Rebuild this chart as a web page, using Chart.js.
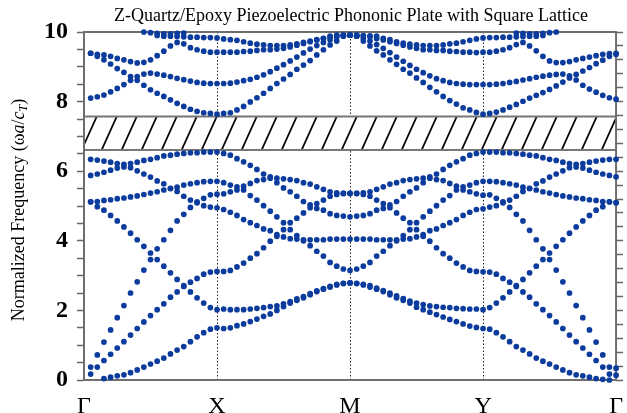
<!DOCTYPE html>
<html>
<head>
<meta charset="utf-8">
<script src="https://cdn.jsdelivr.net/npm/chart.js@4"></script>
<style>
  html, body { margin: 0; padding: 0; background: #fff; }
  #wrap { width: 627px; height: 413px; }
</style>
</head>
<body>
<div id="wrap"><canvas id="bands" width="627" height="413"></canvas></div>
<script>
// symmetry points along the path
const pathLabels = ["Γ", "X", "M", "Y", "Γ"];
// band gap (hatched)
const gapRange = [6.61, 7.57];

// 20 samples per segment: Γ-X | X-M | M-Y | Y-Γ
const bandA = [
  null, null, 0.04, 0.08, 0.12, 0.15, 0.21, 0.29, 0.37, 0.46, 0.54, 0.63, 0.75, 0.86, 0.96, 1.10, 1.24, 1.36, 1.46, 1.50,
  1.48, 1.50, 1.56, 1.61, 1.68, 1.75, 1.83, 1.90, 2.00, 2.11, 2.21, 2.29, 2.36, 2.45, 2.54, 2.61, 2.67, 2.73, 2.77, 2.79,
  2.77, 2.73, 2.67, 2.61, 2.54, 2.45, 2.36, 2.29, 2.21, 2.09, 2.02, 1.95, 1.88, 1.81, 1.74, 1.68, 1.61, 1.55, 1.51, 1.48,
  1.46, 1.36, 1.24, 1.10, 0.96, 0.86, 0.75, 0.63, 0.54, 0.46, 0.37, 0.29, 0.21, 0.15, 0.12, 0.08, 0.04, 0.02, 0.00, null
];
const bandB = [
  0.17, 0.37, 0.56, 0.74, 0.92, 1.10, 1.29, 1.48, 1.67, 1.85, 2.02, 2.19, 2.38, 2.53, 2.69, 2.81, 2.92, 3.04, 3.10, 3.12,
  3.12, 3.15, 3.25, 3.36, 3.50, 3.63, 3.80, 3.99, 4.13, 4.32, 4.52, 4.65, 4.80, 4.95, 5.07, 5.17, 5.28, 5.33, 5.36, 5.36,
  5.36, 5.33, 5.28, 5.17, 5.07, 4.95, 4.80, 4.65, 4.52, 4.32, 4.13, 3.99, 3.80, 3.63, 3.50, 3.36, 3.25, 3.15, 3.12, 3.11,
  3.10, 3.04, 2.92, 2.81, 2.69, 2.53, 2.38, 2.19, 2.02, 1.85, 1.67, 1.48, 1.29, 1.10, 0.92, 0.74, 0.56, 0.37, 0.17, 0.14
];
const bandC = [
  0.37, 0.72, 1.09, 1.44, 1.79, 2.14, 2.50, 2.82, 3.16, 3.46, 3.77, 4.03, 4.30, 4.57, 4.76, 4.96, 5.12, 5.22, 5.32, 5.34,
  5.35, 5.41, 5.46, 5.46, 5.30, 5.17, 5.01, 4.85, 4.69, 4.52, 4.32, 4.15, 4.00, 3.86, 3.70, 3.56, 3.38, 3.27, 3.19, 3.15,
  3.19, 3.27, 3.38, 3.56, 3.70, 3.86, 4.00, 4.15, 4.32, 4.52, 4.69, 4.85, 5.01, 5.17, 5.30, 5.46, 5.46, 5.41, 5.35, 5.31,
  5.32, 5.22, 5.12, 4.96, 4.76, 4.57, 4.30, 4.03, 3.77, 3.46, 3.16, 2.82, 2.50, 2.14, 1.79, 1.44, 1.09, 0.72, 0.37, 0.34
];
const bandD = [
  5.12, 4.98, 4.88, 4.73, 4.57, 4.40, 4.22, 4.03, 3.84, 3.65, 3.46, 3.27, 3.08, 2.89, 2.71, 2.53, 2.36, 2.21, 2.08, 2.02,
  2.04, 2.02, 2.02, 2.02, 2.04, 2.06, 2.08, 2.11, 2.13, 2.19, 2.25, 2.33, 2.40, 2.48, 2.56, 2.63, 2.69, 2.75, 2.78, 2.79,
  2.78, 2.75, 2.71, 2.64, 2.57, 2.50, 2.42, 2.34, 2.27, 2.21, 2.17, 2.13, 2.11, 2.09, 2.08, 2.06, 2.05, 2.04, 2.04, 2.02,
  2.08, 2.21, 2.36, 2.53, 2.71, 2.89, 3.08, 3.27, 3.46, 3.65, 3.84, 4.03, 4.22, 4.40, 4.57, 4.73, 4.88, 4.98, 5.12, 5.09
];
const bandE = [
  6.34, 6.32, 6.29, 6.26, 6.22, 6.20, 6.22, 6.26, 6.31, 6.34, 6.39, 6.44, 6.46, 6.49, 6.51, 6.53, 6.53, 6.55, 6.55, 6.55,
  6.51, 6.46, 6.36, 6.27, 6.17, 6.05, 5.92, 5.84, 5.80, 5.78, 5.76, 5.73, 5.67, 5.63, 5.55, 5.48, 5.41, 5.38, 5.36, 5.36,
  5.36, 5.38, 5.41, 5.48, 5.55, 5.63, 5.67, 5.73, 5.76, 5.78, 5.80, 5.84, 5.92, 6.05, 6.17, 6.27, 6.36, 6.46, 6.51, 6.55,
  6.55, 6.55, 6.53, 6.53, 6.51, 6.49, 6.46, 6.44, 6.39, 6.34, 6.31, 6.26, 6.22, 6.20, 6.22, 6.26, 6.29, 6.32, 6.34, 6.34
];
const bandF = [
  5.88, 5.92, 5.97, 6.03, 6.09, 6.12, 6.10, 6.01, 5.92, 5.83, 5.72, 5.64, 5.51, 5.42, 5.28, 5.17, 5.09, 5.01, 4.97, 4.95,
  4.90, 4.82, 4.73, 4.61, 4.52, 4.44, 4.34, 4.29, 4.18, 4.11, 4.06, 4.05, 4.03, 4.03, 4.03, 4.03, 4.05, 4.05, 4.05, 4.05,
  4.05, 4.05, 4.05, 4.03, 4.03, 4.03, 4.03, 4.05, 4.06, 4.11, 4.18, 4.29, 4.34, 4.44, 4.52, 4.61, 4.73, 4.82, 4.90, 4.92,
  4.97, 5.01, 5.09, 5.17, 5.28, 5.42, 5.51, 5.64, 5.72, 5.83, 5.92, 6.01, 6.10, 6.12, 6.09, 6.03, 5.97, 5.92, 5.88, 5.84
];
const bandH = [
  5.12, 5.13, 5.16, 5.18, 5.21, 5.23, 5.26, 5.29, 5.33, 5.37, 5.41, 5.46, 5.50, 5.54, 5.60, 5.64, 5.67, 5.70, 5.71, 5.71,
  5.67, 5.60, 5.55, 5.57, 5.65, 5.73, 5.76, 5.80, 5.67, 5.52, 5.41, 5.28, 5.13, 5.03, 4.93, 4.88, 4.78, 4.73, 4.71, 4.69,
  4.71, 4.73, 4.78, 4.88, 4.93, 5.03, 5.13, 5.28, 5.41, 5.52, 5.67, 5.80, 5.76, 5.73, 5.65, 5.57, 5.55, 5.60, 5.67, 5.71,
  5.71, 5.70, 5.67, 5.64, 5.60, 5.54, 5.50, 5.46, 5.41, 5.37, 5.33, 5.29, 5.26, 5.23, 5.21, 5.18, 5.16, 5.13, 5.12, 5.10
];
// above the gap
const bandUa = [
  8.10, 8.14, 8.19, 8.28, 8.38, 8.49, 8.61, 8.72, 8.79, 8.82, 8.79, 8.76, 8.72, 8.67, 8.63, 8.59, 8.55, 8.53, 8.52, 8.52,
  8.52, 8.53, 8.56, 8.60, 8.64, 8.70, 8.77, 8.86, 8.96, 9.06, 9.17, 9.28, 9.40, 9.51, 9.61, 9.70, 9.78, 9.84, 9.89, 9.91,
  9.88, 9.82, 9.74, 9.64, 9.53, 9.41, 9.28, 9.16, 9.04, 8.93, 8.83, 8.74, 8.66, 8.60, 8.55, 8.52, 8.50, 8.49, 8.49, 8.49,
  8.49, 8.50, 8.52, 8.55, 8.58, 8.62, 8.66, 8.70, 8.73, 8.76, 8.78, 8.79, 8.74, 8.62, 8.47, 8.36, 8.27, 8.18, 8.11, 8.07
];
const bandUb = [
  9.39, 9.30, 9.20, 9.08, 8.95, 8.84, 8.72, 8.61, 8.47, 8.34, 8.24, 8.15, 8.05, 7.95, 7.86, 7.78, 7.72, 7.68, 7.66, 7.64,
  7.66, 7.68, 7.76, 7.86, 7.99, 8.11, 8.24, 8.38, 8.52, 8.65, 8.78, 8.93, 9.05, 9.18, 9.34, 9.49, 9.63, 9.74, 9.88, 9.91,
  9.88, 9.74, 9.60, 9.46, 9.34, 9.20, 9.07, 8.93, 8.82, 8.68, 8.55, 8.41, 8.28, 8.15, 8.03, 7.93, 7.82, 7.76, 7.69, 7.64,
  7.66, 7.70, 7.76, 7.84, 7.92, 8.01, 8.10, 8.18, 8.26, 8.35, 8.45, 8.56, 8.68, 8.78, 8.88, 8.98, 9.09, 9.19, 9.30, 9.36
];
const bandUc = [
  9.39, 9.36, 9.34, 9.30, 9.24, 9.20, 9.15, 9.11, 9.13, 9.20, 9.32, 9.45, 9.60, 9.70, 9.66, 9.55, 9.49, 9.45, 9.42, 9.42,
  9.42, 9.42, 9.42, 9.44, 9.45, 9.47, 9.49, 9.49, 9.51, 9.53, 9.57, 9.62, 9.67, 9.72, 9.77, 9.81, 9.86, 9.89, 9.91, 9.91,
  9.91, 9.89, 9.86, 9.81, 9.77, 9.72, 9.67, 9.62, 9.57, 9.53, 9.49, 9.49, 9.47, 9.47, 9.45, 9.44, 9.42, 9.42, 9.41, 9.42,
  9.42, 9.45, 9.49, 9.55, 9.64, 9.70, 9.60, 9.46, 9.30, 9.17, 9.12, 9.12, 9.15, 9.20, 9.24, 9.28, 9.32, 9.36, 9.38, 9.39
];
const bandUd = [
  null, null, null, null, null, null, null, null, null, null, 9.90, 9.88, 9.88, 9.87, 9.86, 9.85, 9.85, 9.84, 9.84, 9.83,
  9.80, 9.78, 9.76, 9.72, 9.68, 9.65, 9.63, 9.61, 9.61, 9.61, 9.63, 9.66, 9.70, 9.74, 9.78, 9.82, 9.88, 9.91, 9.91, 9.91,
  9.91, 9.90, 9.89, 9.88, 9.82, 9.78, 9.72, 9.68, 9.65, 9.63, 9.61, 9.61, 9.61, 9.63, 9.66, 9.68, 9.72, 9.76, 9.80, 9.83,
  9.84, 9.84, 9.85, 9.85, 9.86, 9.87, 9.88, 9.88, 9.90, null, null, null, null, null, null, null, null, null, null, null
];
const bandUe = [
  null, null, null, null, null, null, null, null, 10.0, 9.98, 9.96, 9.95, 9.95, 9.96, 9.97, null, null, null, null, null,
  null, null, null, null, null, null, null, null, null, null, null, null, null, null, null, null, null, null, null, null,
  null, null, null, null, null, null, null, null, null, null, null, null, null, null, null, null, null, null, null, null,
  null, null, null, null, 9.97, 9.96, 9.95, 9.95, 9.96, 9.98, 10.0, null, null, null, null, null, null, null, null, null
];

const allBands = [bandA, bandB, bandC, bandD, bandE, bandF, bandH, bandUa, bandUb, bandUc, bandUd, bandUe];

// sample positions along Γ-X-M-Y-Γ (each segment = 1 unit, 20 steps)
const kPath = bandA.map((_, i) => Math.round((i + 1) * 5) / 100);

const dotColor = "#0b3c9d";
const serif = "'Liberation Serif', 'Times New Roman', serif";

// hatched gap, symmetry lines and frame go under the dots
const backdrop = {
  id: "backdrop",
  beforeDatasetsDraw(chart) {
    const { ctx, chartArea: a, scales: { x, y } } = chart;
    ctx.save();

    ctx.strokeStyle = "#222";
    ctx.lineWidth = 1;
    ctx.setLineDash([1.5, 2]);
    [1, 2, 3].forEach(k => {
      const px = Math.round(x.getPixelForValue(k)) + 0.5;
      ctx.beginPath();
      ctx.moveTo(px, a.top);
      ctx.lineTo(px, a.bottom);
      ctx.stroke();
    });
    ctx.setLineDash([]);

    const yTop = y.getPixelForValue(gapRange[1]);
    const yBot = y.getPixelForValue(gapRange[0]);
    const w = a.right - a.left;
    ctx.fillStyle = "#fff";
    ctx.fillRect(a.left, yTop, w, yBot - yTop);

    ctx.save();
    ctx.beginPath();
    ctx.rect(a.left, yTop, w, yBot - yTop);
    ctx.clip();
    ctx.strokeStyle = "#000";
    ctx.lineWidth = 1.7;
    const lean = (yBot - yTop) * 0.45;
    for (let xt = a.left + 12.7 - 20; xt < a.right + lean + 20; xt += 20) {
      ctx.beginPath();
      ctx.moveTo(xt - lean, yBot);
      ctx.lineTo(xt, yTop);
      ctx.stroke();
    }
    ctx.restore();

    ctx.strokeStyle = "#777";
    ctx.lineWidth = 2;
    ctx.beginPath();
    ctx.moveTo(a.left, yTop); ctx.lineTo(a.right, yTop);
    ctx.moveTo(a.left, yBot); ctx.lineTo(a.right, yBot);
    ctx.stroke();

    ctx.strokeStyle = "#6e6e6e";
    ctx.strokeRect(a.left, a.top, w, a.bottom - a.top);
    ctx.restore();
  }
};

// title and the y axis title (with subscript)
const texts = {
  id: "texts",
  afterDraw(chart) {
    const { ctx, chartArea: a } = chart;
    ctx.save();
    ctx.fillStyle = "#000";
    ctx.font = "18px " + serif;
    ctx.textAlign = "center";
    ctx.textBaseline = "middle";
    ctx.fillText("Z-Quartz/Epoxy Piezoelectric Phononic Plate with Square Lattice", (a.left + a.right) / 2 + 1, 16);

    const parts = [
      { t: "Normalized Frequency (", f: "18px " + serif, dy: 0 },
      { t: "ω", f: "18px " + serif, dy: 0 },
      { t: "a", f: "italic 18px " + serif, dy: 0 },
      { t: "/", f: "18px " + serif, dy: 0 },
      { t: "c", f: "italic 18px " + serif, dy: 0 },
      { t: "T", f: "italic 12px " + serif, dy: 5 },
      { t: ")", f: "18px " + serif, dy: 0 }
    ];
    let total = 0;
    parts.forEach(p => { ctx.font = p.f; p.w = ctx.measureText(p.t).width; total += p.w; });
    ctx.translate(19, (a.top + a.bottom) / 2 + 4);
    ctx.rotate(-Math.PI / 2);
    ctx.textAlign = "left";
    ctx.textBaseline = "middle";
    let cx = -total / 2;
    parts.forEach(p => { ctx.font = p.f; ctx.fillText(p.t, cx, p.dy); cx += p.w; });
    ctx.restore();
  }
};

const datasets = allBands.map(band => ({
  data: band.map((v, i) => (v === null ? null : { x: kPath[i], y: v })).filter(p => p),
  backgroundColor: dotColor,
  borderWidth: 0,
  pointRadius: 2.85,
  pointHoverRadius: 2.85,
  showLine: false,
  clip: false
}));

new Chart(document.getElementById("bands"), {
  type: "scatter",
  data: { datasets: datasets },
  options: {
    responsive: false,
    animation: false,
    events: [],
    layout: { padding: { top: 32, left: 0, right: 0, bottom: 0 } },
    plugins: { legend: { display: false }, tooltip: { enabled: false }, title: { display: false } },
    scales: {
      x: {
        type: "linear",
        min: 0,
        max: 4,
        afterBuildTicks: s => { s.ticks = [0, 1, 2, 3, 4].map(v => ({ value: v })); },
        afterFit: s => { s.height = 33; },
        ticks: {
          autoSkip: false,
          maxRotation: 0,
          padding: 4,
          color: "#000",
          font: { family: serif, size: 24 },
          callback: v => pathLabels[v]
        },
        grid: { display: false },
        border: { display: false }
      },
      y: {
        position: "left",
        min: 0,
        max: 10,
        afterFit: s => { s.width = 84; },
        ticks: {
          stepSize: 0.5,
          autoSkip: false,
          padding: 9,
          color: "#000",
          font: { family: serif, size: 24, weight: "bold" },
          callback: v => (Number.isInteger(v) && v % 2 === 0 ? v : "")
        },
        grid: { drawOnChartArea: false, tickLength: 7, tickColor: "#666", tickWidth: 1.5 },
        border: { display: false }
      },
      y2: {
        position: "right",
        min: 0,
        max: 10,
        afterFit: s => { s.width = 9; },
        ticks: { stepSize: 0.4, autoSkip: false, display: false },
        grid: { drawOnChartArea: false, tickLength: 7, tickColor: "#666", tickWidth: 1.5 },
        border: { display: false }
      }
    }
  },
  plugins: [backdrop, texts]
});
</script>
</body>
</html>
